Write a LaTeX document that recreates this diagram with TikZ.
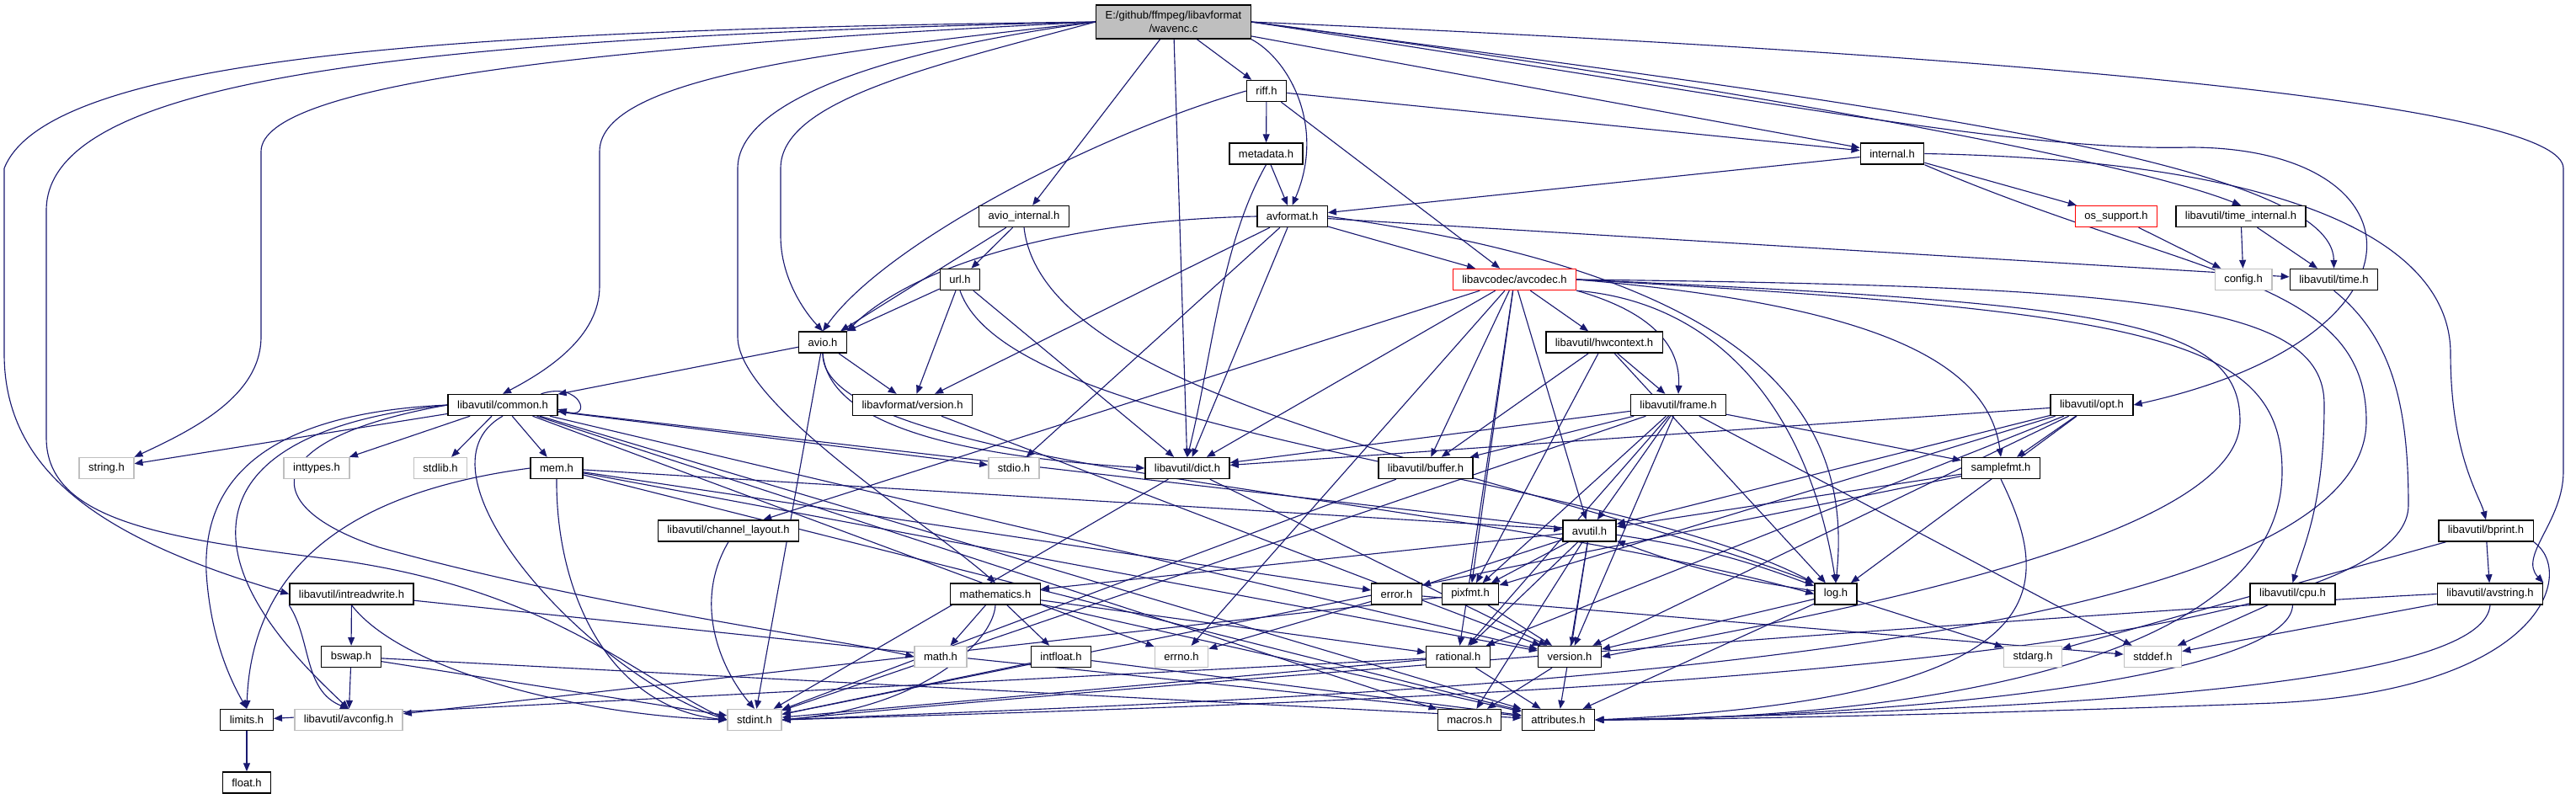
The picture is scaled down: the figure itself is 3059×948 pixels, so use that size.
\documentclass[tikz,border=0pt]{standalone}
\usepackage{fontspec}
\setmainfont{Liberation Sans}
\usepackage{xcolor}
\definecolor{dxedge}{RGB}{25,25,112}
\definecolor{dxgray}{RGB}{191,191,191}
\definecolor{dxred}{RGB}{255,0,0}
\usepackage{tikz}
\usetikzlibrary{arrows.meta}
\pgfdeclarelayer{wires}
\pgfsetlayers{wires,main}

\begin{document}
\begin{tikzpicture}[x=0.1mm, y=-0.1mm,
    hdr/.style={draw=black, fill=white, line width=0.4pt, font=\fontsize{3.7}{4.4}\selectfont,
                inner xsep=1.1mm, inner ysep=0pt, minimum height=2.5mm},
    sys/.style={hdr, draw=dxgray},
    bad/.style={hdr, draw=dxred},
    inc/.style={draw=dxedge, line width=0.32pt, -{Triangle[length=1mm, width=0.8mm]}}]
      \useasboundingbox (0,0) rectangle (3059,948);
      % Source file
      \node[hdr, fill=dxgray, align=center, minimum height=4mm] (wavenc) at (1393.5,26)
           {E:/github/ffmpeg/libavformat\\/wavenc.c};
      % libavformat headers
      \node[hdr] (riff) at (1504,108) {riff.h};
      \node[hdr] (metadata) at (1503.5,182.5) {metadata.h};
      \node[hdr] (internal) at (2247,182.5) {internal.h};
      \node[hdr] (aviointernal) at (1216,257) {avio\_internal.h};
      \node[hdr] (avformat) at (1534.5,257) {avformat.h};
      \node[bad] (ossupport) at (2513,257) {os\_support.h};
      \node[hdr] (timeinternal) at (2661,257) {libavutil/time\_internal.h};
      \node[hdr] (url) at (1140,332) {url.h};
      \node[bad] (avcodec) at (1798.5,332) {libavcodec/avcodec.h};
      \node[sys] (config) at (2664,332) {config.h};
      \node[hdr] (time) at (2771.5,332) {libavutil/time.h};
      \node[hdr] (avio) at (977,406.5) {avio.h};
      \node[hdr] (hwcontext) at (1905,406.5) {libavutil/hwcontext.h};
      \node[hdr] (common) at (597,481) {libavutil/common.h};
      \node[hdr] (lavfversion) at (1083.5,481) {libavformat/version.h};
      \node[hdr] (frame) at (1993,481) {libavutil/frame.h};
      \node[hdr] (opt) at (2484,481) {libavutil/opt.h};
      % libavutil and system headers
      \node[sys] (string) at (126.5,556) {string.h};
      \node[sys] (inttypes) at (376,556) {inttypes.h};
      \node[sys] (stdlib) at (523,556) {stdlib.h};
      \node[hdr] (mem) at (661,556) {mem.h};
      \node[sys] (stdio) at (1204,556) {stdio.h};
      \node[hdr] (dict) at (1410,556) {libavutil/dict.h};
      \node[hdr] (buffer) at (1693,556) {libavutil/buffer.h};
      \node[hdr] (samplefmt) at (2376,556) {samplefmt.h};
      \node[hdr] (chlayout) at (865,630.5) {libavutil/channel\_layout.h};
      \node[hdr] (avutil) at (1887.5,630.5) {avutil.h};
      \node[hdr] (bprint) at (2952,630.5) {libavutil/bprint.h};
      \node[hdr] (intreadwrite) at (417.5,705.5) {libavutil/intreadwrite.h};
      \node[hdr] (mathematics) at (1182,705.5) {mathematics.h};
      \node[hdr] (error) at (1658.5,705.5) {error.h};
      \node[hdr] (pixfmt) at (1746,705.5) {pixfmt.h};
      \node[hdr] (log) at (2180,705.5) {log.h};
      \node[hdr] (cpu) at (2722.5,705.5) {libavutil/cpu.h};
      \node[hdr] (avstring) at (2957,705.5) {libavutil/avstring.h};
      \node[hdr] (bswap) at (417,780) {bswap.h};
      \node[sys] (math) at (1117,780) {math.h};
      \node[hdr] (intfloat) at (1260,780) {intfloat.h};
      \node[sys] (errno) at (1403,780) {errno.h};
      \node[hdr] (rational) at (1731.5,780) {rational.h};
      \node[hdr] (version) at (1864,780) {version.h};
      \node[sys] (stdarg) at (2414,780) {stdarg.h};
      \node[sys] (stddef) at (2556.5,780) {stddef.h};
      \node[hdr] (limits) at (293,855) {limits.h};
      \node[sys] (avconfig) at (414,855) {libavutil/avconfig.h};
      \node[sys] (stdint) at (896,855) {stdint.h};
      \node[hdr] (macros) at (1745,855) {macros.h};
      \node[hdr] (attributes) at (1850.5,855) {attributes.h};
      \node[hdr] (float) at (293,929.5) {float.h};
      \begin{pgfonlayer}{wires}
      % wavenc.c includes
      \draw[inc] (wavenc.west) .. controls (600,35) and (60,60) .. (5,200) -- (5,420)
                 .. controls (5,560) and (120,640) .. (intreadwrite.west);
      \draw[inc] (wavenc.west) .. controls (500,45) and (55,90) .. (55,250) -- (55,520)
                 .. controls (55,620) and (200,640) .. (400,665) .. controls (650,700) and (750,800) .. (stdint.west);
      \draw[inc] (wavenc.west) .. controls (700,55) and (310,100) .. (310,180) -- (310,400)
                 .. controls (310,470) and (230,510) .. (string.north east);
      \draw[inc] (wavenc.west) .. controls (1000,60) and (712,90) .. (712,180) -- (712,340)
                 .. controls (712,400) and (650,440) .. (common.north);
      \draw[inc] (wavenc.west) .. controls (1050,60) and (876,120) .. (876,200) -- (876,400)
                 .. controls (876,480) and (1100,620) .. (mathematics.north);
      \draw[inc] (wavenc.west) .. controls (1100,80) and (927,120) .. (927,200) -- (927,280)
                 .. controls (927,330) and (955,370) .. (avio.north);
      \draw[inc] (wavenc) -- (aviointernal);
      \draw[inc] (wavenc) -- (dict);
      \draw[inc] (wavenc) -- (riff);
      \draw[inc] (wavenc.south east) .. controls (1530,70) and (1575,150) .. (avformat.north);
      \draw[inc] (wavenc) -- (internal);
      \draw[inc] (wavenc.east) .. controls (1900,80) and (2500,180) .. (timeinternal.north);
      \draw[inc] (wavenc.east) .. controls (2200,120) and (2770,190) .. (time.north);
      \draw[inc] (wavenc.east) .. controls (2100,120) and (2400,180) .. (2600,175)
                 .. controls (2880,175) and (2900,400) .. (opt.east);
      \draw[inc] (wavenc.east) .. controls (2500,70) and (3044,130) .. (3044,200) -- (3044,560)
                 .. controls (3044,620) and (2990,660) .. (avstring.north east);
      % riff.h and metadata.h
      \draw[inc] (riff) -- (metadata);
      \draw[inc] (riff.west) .. controls (1300,160) and (1050,290) .. (avio.north);
      \draw[inc] (riff) -- (avcodec);
      \draw[inc] (riff) -- (internal);
      \draw[inc] (metadata) -- (avformat);
      \draw[inc] (metadata.south) .. controls (1450,290) and (1440,420) .. (dict.north);
      % internal.h
      \draw[inc] (internal) -- (avformat);
      \draw[inc] (internal) -- (ossupport);
      \draw[inc] (internal.east) .. controls (2700,190) and (2910,280) .. (2910,420)
                 .. controls (2910,540) and (2945,590) .. (bprint.north);
      \draw[inc] (internal.south east) .. controls (2600,330) and (2810,330) .. (2810,500)
                 .. controls (2810,800) and (1500,830) .. (stdint.east);
      % avio_internal.h and url.h
      \draw[inc] (aviointernal) -- (avio);
      \draw[inc] (aviointernal) -- (url);
      \draw[inc] (aviointernal.south) .. controls (1240,480) and (1800,560) .. (log.north west);
      \draw[inc] (url) -- (avio);
      \draw[inc] (url) -- (lavfversion);
      \draw[inc] (url) -- (dict);
      \draw[inc] (url.south) .. controls (1200,520) and (1900,560) .. (log.north west);
      % avformat.h
      \draw[inc] (avformat.west) .. controls (1250,262) and (1080,320) .. (avio.north east);
      \draw[inc] (avformat) -- (lavfversion);
      \draw[inc] (avformat) -- (stdio);
      \draw[inc] (avformat) -- (dict);
      \draw[inc] (avformat) -- (avcodec);
      \draw[inc] (avformat) -- (time);
      \draw[inc] (avformat.east) .. controls (2100,330) and (2200,500) .. (log.north);
      % time headers
      \draw[inc] (ossupport) -- (config);
      \draw[inc] (timeinternal) -- (config);
      \draw[inc] (timeinternal) -- (time);
      \draw[inc] (time.south) .. controls (2840,400) and (2860,480) .. (2860,600)
                 .. controls (2860,800) and (1600,835) .. (stdint.east);
      % avio.h
      \draw[inc] (avio) -- (common);
      \draw[inc] (avio) -- (lavfversion);
      \draw[inc] (avio) -- (stdint);
      \draw[inc] (avio.south) .. controls (985,520) and (1200,545) .. (dict.west);
      \draw[inc] (avio.south) .. controls (975,560) and (1700,580) .. (log.west);
      \draw[inc] (lavfversion) -- (version);
      % avcodec.h
      \draw[inc] (avcodec) -- (hwcontext);
      \draw[inc] (avcodec.south east) .. controls (1960,370) and (1996,410) .. (frame.north);
      \draw[inc] (avcodec) -- (dict);
      \draw[inc] (avcodec) -- (buffer);
      \draw[inc] (avcodec) -- (avutil);
      \draw[inc] (avcodec) -- (pixfmt);
      \draw[inc] (avcodec) -- (rational);
      \draw[inc] (avcodec) -- (errno);
      \draw[inc] (avcodec) -- (chlayout);
      \draw[inc] (avcodec.south east) .. controls (2050,360) and (2150,500) .. (log.north);
      \draw[inc] (avcodec.east) .. controls (2200,360) and (2360,420) .. (samplefmt.north);
      \draw[inc] (avcodec.east) .. controls (2550,340) and (2760,360) .. (2760,480)
                 .. controls (2760,600) and (2735,650) .. (cpu.north);
      \draw[inc] (avcodec.east) .. controls (2500,360) and (2660,380) .. (2660,500)
                 .. controls (2660,650) and (2100,740) .. (version.east);
      \draw[inc] (avcodec.east) .. controls (2550,370) and (2710,400) .. (2710,560)
                 .. controls (2710,830) and (2100,855) .. (attributes.east);
      % hwcontext.h and frame.h
      \draw[inc] (hwcontext) -- (frame);
      \draw[inc] (hwcontext) -- (buffer);
      \draw[inc] (hwcontext) -- (pixfmt);
      \draw[inc] (hwcontext) -- (log);
      \draw[inc] (frame) -- (buffer);
      \draw[inc] (frame) -- (dict);
      \draw[inc] (frame) -- (avutil);
      \draw[inc] (frame) -- (pixfmt);
      \draw[inc] (frame) -- (rational);
      \draw[inc] (frame) -- (version);
      \draw[inc] (frame) -- (samplefmt);
      \draw[inc] (frame) -- (stddef);
      \draw[inc] (frame) -- (stdint);
      % common.h
      \draw[inc] ([xshift=-2mm]common.north east) .. controls (690,452) and (705,500) .. ([yshift=-0.5mm]common.east);
      \draw[inc] (common) -- (string);
      \draw[inc] (common) -- (inttypes);
      \draw[inc] (common) -- (stdlib);
      \draw[inc] (common) -- (mem);
      \draw[inc] (common) -- (stdio);
      \draw[inc] (common) -- (errno);
      \draw[inc] (common.west) .. controls (330,490) and (240,560) .. (245,680)
                 .. controls (250,760) and (275,810) .. (limits.north);
      \draw[inc] (common.west) .. controls (350,500) and (275,560) .. (280,640)
                 .. controls (285,720) and (370,800) .. (avconfig.north);
      \draw[inc] (common.west) .. controls (310,520) and (300,600) .. (450,650)
                 .. controls (700,720) and (1000,760) .. (math.west);
      \draw[inc] (common.south) .. controls (480,560) and (700,800) .. (stdint.west);
      \draw[inc] (common) -- (attributes);
      \draw[inc] (common) -- (macros);
      \draw[inc] (common) -- (version);
      % mem.h
      \draw[inc] (mem.west) .. controls (450,580) and (300,650) .. (limits.north);
      \draw[inc] (mem.south) .. controls (660,700) and (720,840) .. (stdint.west);
      \draw[inc] (mem) -- (avutil);
      \draw[inc] (mem) -- (error);
      \draw[inc] (mem) -- (attributes);
      \draw[inc] (mem) -- (version);
      % middle rows
      \draw[inc] (dict) -- (stdint);
      \draw[inc] (dict) -- (version);
      \draw[inc] (buffer) -- (stdint);
      \draw[inc] (samplefmt) -- (avutil);
      \draw[inc] (samplefmt.south) .. controls (2440,700) and (2450,830) .. (attributes.east);
      \draw[inc] (samplefmt) -- (stdint);
      \draw[inc] (chlayout.south) .. controls (820,720) and (860,800) .. (stdint.north);
      % avutil.h
      \draw[inc] (avutil) -- (common);
      \draw[inc] (avutil) -- (error);
      \draw[inc] (avutil) -- (pixfmt);
      \draw[inc] (avutil) -- (rational);
      \draw[inc] (avutil) -- (version);
      \draw[inc] (avutil) to[bend left=6] (log);
      \draw[inc] (avutil) -- (mathematics);
      \draw[inc] (avutil) -- (attributes);
      \draw[inc] (avutil) -- (macros);
      % bprint.h and avstring.h
      \draw[inc] (bprint) -- (stdarg);
      \draw[inc] (bprint) -- (avstring);
      \draw[inc] (bprint.south east) .. controls (3060,680) and (3020,820) .. (2700,835)
                 .. controls (2300,850) and (2000,855) .. (attributes.east);
      \draw[inc] (avstring) -- (stddef);
      \draw[inc] (avstring.west) .. controls (2600,720) and (1500,800) .. (stdint.east);
      \draw[inc] (avstring.south) .. controls (2950,800) and (2600,840) .. (attributes.east);
      % intreadwrite.h and bswap.h
      \draw[inc] (intreadwrite) -- (bswap);
      \draw[inc] (intreadwrite.south west) .. controls (370,760) and (360,820) .. (avconfig.north);
      \draw[inc] (intreadwrite.south) .. controls (480,800) and (700,850) .. (stdint.west);
      \draw[inc] (intreadwrite) -- (attributes);
      \draw[inc] (bswap) -- (avconfig);
      \draw[inc] (bswap) -- (stdint);
      \draw[inc] (bswap) -- (attributes);
      % mathematics.h
      \draw[inc] (mathematics) -- (math);
      \draw[inc] (mathematics) -- (intfloat);
      \draw[inc] (mathematics.south) .. controls (1180,760) and (1100,840) .. (stdint.east);
      \draw[inc] (mathematics) -- (rational);
      \draw[inc] (mathematics) -- (attributes);
      % error.h, pixfmt.h, log.h, cpu.h
      \draw[inc] (error) -- (errno);
      \draw[inc] (error) -- (stddef);
      \draw[inc] (pixfmt) -- (version);
      \draw[inc] (pixfmt) -- (avconfig);
      \draw[inc] (log) to[bend left=6] (avutil);
      \draw[inc] (log) -- (stdarg);
      \draw[inc] (log) -- (version);
      \draw[inc] (log) -- (attributes);
      \draw[inc] (cpu) -- (stddef);
      \draw[inc] (cpu.south) .. controls (2720,800) and (2300,850) .. (attributes.east);
      % bottom rows
      \draw[inc] (intfloat) -- (stdint);
      \draw[inc] (intfloat) -- (attributes);
      \draw[inc] (rational) -- (limits);
      \draw[inc] (rational) -- (attributes);
      \draw[inc] (rational) -- (stdint);
      \draw[inc] (version) -- (macros);
      \draw[inc] (limits) -- (float);
      % opt.h
      \draw[inc] (opt) -- (dict);
      \draw[inc] (opt) -- (log);
      \draw[inc] (opt) -- (pixfmt);
      \draw[inc] (opt) -- (rational);
      \draw[inc] (opt) -- (samplefmt);
      \draw[inc] (opt) -- (version);
      \draw[inc] (opt) -- (avutil);
      \end{pgfonlayer}
    \end{tikzpicture}
\end{document}
